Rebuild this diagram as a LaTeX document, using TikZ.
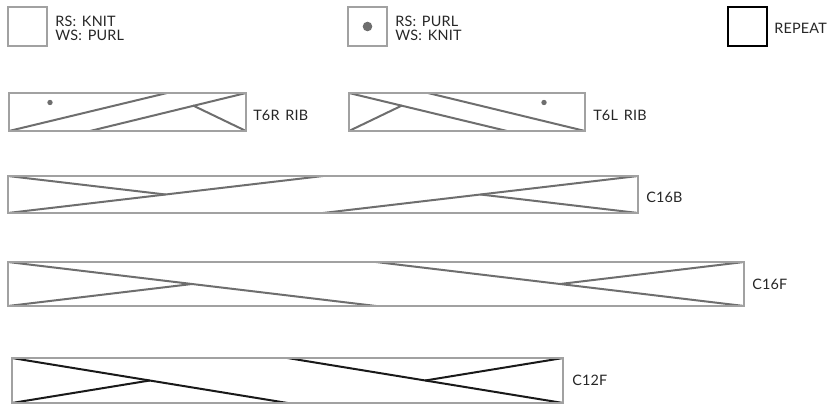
\documentclass[tikz,border=0pt]{standalone}
\usepackage{fontspec}
\setmainfont{Lato}[LetterSpace=1.5,WordSpace=1.5]
\begin{document}
\begin{tikzpicture}[x=0.75pt,y=-0.75pt,
  frame/.style={draw=black!37, line width=1.6pt},
  keyframe/.style={draw=black!37, line width=2pt},
  repframe/.style={draw=black, line width=2.2pt},
  cable/.style={draw=black!57, line width=1.5pt},
  darkcable/.style={draw=black!90, line width=1.5pt},
  lbl/.style={anchor=west, inner sep=0pt, text=black!85, font=\fontsize{10.8}{11}\selectfont},
  lbltwo/.style={lbl, align=left, font=\fontsize{10.8}{10.9}\selectfont},
  dot/.style={fill=black!57, draw=none}]
\useasboundingbox (0,0) rectangle (831,406);

% legend
\draw[keyframe] (8,7) rectangle (47,46);
\node[lbltwo] (k1) at (55,28.5) {RS: KNIT\\WS: PURL};
\draw[keyframe] (348,7) rectangle (387,46);
\fill[dot] (367.5,26.5) circle (4.8);
\node[lbltwo] (k2) at (395,28.5) {RS: PURL\\WS: KNIT};
\draw[repframe] (728,7) rectangle (767,46);
\node[lbl] (k3) at (774,28) {REPEAT};

% T6R RIB
\coordinate (a1) at (9,93); \coordinate (a2) at (246,131);
\draw[cable] (9,131) -- (167,93);
\draw[cable] (90,131) -- (246,93);
\draw[cable] (193,105.5) -- (246,131);
\fill[dot] (50,102.5) circle (2.7);
\draw[frame] (a1) rectangle (a2);
\node[lbl] (t6r) at (253,115) {T6R RIB};

% T6L RIB
\coordinate (b1) at (349,93); \coordinate (b2) at (585,131);
\draw[cable] (349,93) -- (507,131);
\draw[cable] (428,93) -- (585,131);
\draw[cable] (349,131) -- (402,105.5);
\fill[dot] (544,102.5) circle (2.7);
\draw[frame] (b1) rectangle (b2);
\node[lbl] (t6l) at (593,115) {T6L RIB};

% C16B
\coordinate (c1) at (8,176); \coordinate (c2) at (638,213);
\draw[cable] (8,213) -- (323,176);
\draw[cable] (323,213) -- (638,176);
\draw[cable] (8,176) -- (165.5,194.5);
\draw[cable] (480.5,194.5) -- (638,213);
\draw[frame] (c1) rectangle (c2);
\node[lbl] (c16b) at (646,197) {C16B};

% C16F
\coordinate (d1) at (8,262); \coordinate (d2) at (744,306);
\draw[cable] (8,262) -- (376,306);
\draw[cable] (376,262) -- (744,306);
\draw[cable] (8,306) -- (192,284);
\draw[cable] (560,284) -- (744,262);
\draw[frame] (d1) rectangle (d2);
\node[lbl] (c16f) at (752,284) {C16F};

% C12F
\coordinate (e1) at (12,358); \coordinate (e2) at (563,403);
\draw[darkcable] (12,358) -- (287.5,403);
\draw[darkcable] (287.5,358) -- (563,403);
\draw[darkcable] (12,403) -- (149.75,380.5);
\draw[darkcable] (425.25,380.5) -- (563,358);
\draw[frame] (e1) rectangle (e2);
\node[lbl] (c12f) at (572,380) {C12F};
\end{tikzpicture}
\end{document}
